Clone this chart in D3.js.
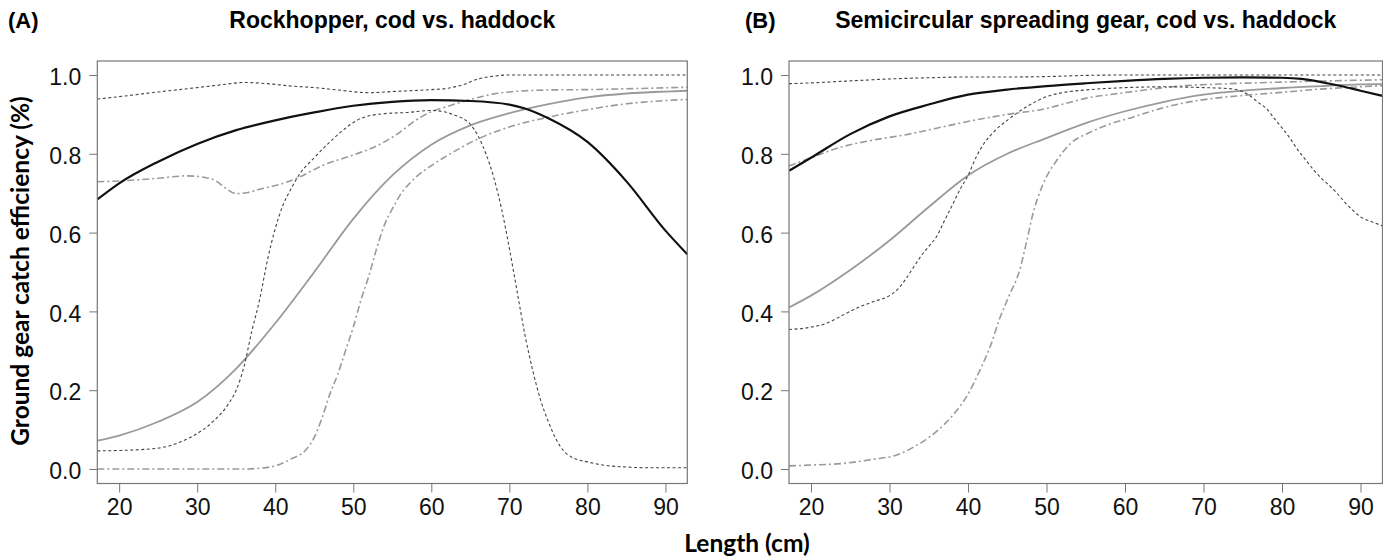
<!DOCTYPE html>
<html>
  <head>
    <meta charset="UTF-8" />
    <style>
      body { margin: 0; background: #fff; }
      svg { display: block; }
      .tick text { font-family: "Liberation Sans", Arial, sans-serif; font-size: 23px; fill: #111; }
      .tick line { stroke: #777; }
    </style>
  </head>
  <body>
    <svg></svg>
    <script src="https://d3js.org/d3.v7.min.js"></script>
    <script>
      // tick labels
      const xTicks = [20, 30, 40, 50, 60, 70, 80, 90];
      const yTicks = [0, 0.2, 0.4, 0.6, 0.8, 1.0];

      // (A) Rockhopper
      const aBlackLen = [17.2, 20, 25, 30, 35, 40, 45, 50, 55, 60, 65, 70, 72, 75, 80, 85, 90, 92.8];
      const aBlackEff = [0.684, 0.725, 0.78, 0.825, 0.86, 0.885, 0.905, 0.922, 0.932, 0.936, 0.934, 0.925, 0.915, 0.89, 0.83, 0.73, 0.605, 0.545];
      const aGreyLen = [17.2, 20, 25, 30, 35, 40, 45, 50, 55, 60, 65, 70, 75, 80, 85, 90, 92.8];
      const aGreyEff = [0.072, 0.085, 0.12, 0.17, 0.255, 0.37, 0.5, 0.635, 0.745, 0.823, 0.872, 0.903, 0.926, 0.943, 0.953, 0.958, 0.96];
      const aBellLen = [17.2, 20, 25, 28, 30, 32, 34, 35, 36, 37, 38, 39, 40, 41, 42, 43, 45, 47, 49, 51, 54, 57, 60, 62, 63, 64, 65, 66, 67, 68, 69, 70, 71, 72, 73, 74, 75, 76, 77, 78, 80, 82, 85, 88, 92.8];
      const aBellEff = [0.046, 0.047, 0.053, 0.07, 0.09, 0.12, 0.165, 0.2, 0.26, 0.35, 0.43, 0.53, 0.61, 0.67, 0.71, 0.745, 0.79, 0.83, 0.865, 0.89, 0.902, 0.905, 0.91, 0.905, 0.898, 0.89, 0.875, 0.845, 0.8, 0.74, 0.66, 0.56, 0.45, 0.34, 0.25, 0.175, 0.12, 0.075, 0.045, 0.03, 0.018, 0.01, 0.005, 0.003, 0.003];
      const aTopLen = [17.2, 20, 25, 30, 33, 36, 39, 42, 45, 48, 52, 55, 60, 62, 64, 66, 68, 70, 75, 92.8];
      const aTopEff = [0.939, 0.945, 0.957, 0.968, 0.975, 0.981, 0.978, 0.972, 0.968, 0.962, 0.955, 0.958, 0.963, 0.966, 0.975, 0.99, 0.997, 1.0, 1.0, 1.0];
      const aDd1Len = [17.2, 20, 25, 28.7, 31, 32.5, 33.5, 35, 36.5, 38, 40.7, 43, 46, 50, 53, 56, 58, 60, 62, 64, 66, 68, 70, 75, 80, 85, 92.8];
      const aDd1Eff = [0.729, 0.731, 0.738, 0.744, 0.74, 0.73, 0.715, 0.699, 0.702, 0.71, 0.723, 0.74, 0.77, 0.797, 0.82, 0.855, 0.885, 0.907, 0.92, 0.932, 0.943, 0.952, 0.957, 0.962, 0.963, 0.965, 0.969];
      const aDd2Len = [17.2, 30, 36, 38, 40, 42, 44, 45, 46, 47, 48, 49, 50, 51, 52, 53, 54, 55, 56, 58, 60, 62, 66, 70, 75, 80, 85, 90, 92.8];
      const aDd2Eff = [0, 0, 0, 0.002, 0.008, 0.025, 0.05, 0.08, 0.13, 0.19, 0.24, 0.3, 0.36, 0.43, 0.49, 0.56, 0.62, 0.66, 0.695, 0.74, 0.77, 0.795, 0.838, 0.868, 0.893, 0.912, 0.927, 0.935, 0.938];

      // (B) Semicircular spreading gear
      const bBlackLen = [17.2, 20, 25, 30, 35, 40, 45, 50, 55, 60, 65, 70, 75, 80, 82.5, 85, 87.5, 90, 92.8];
      const bBlackEff = [0.757, 0.79, 0.85, 0.895, 0.925, 0.95, 0.963, 0.972, 0.979, 0.985, 0.99, 0.993, 0.994, 0.993, 0.99, 0.982, 0.972, 0.96, 0.947];
      const bGreyLen = [17.2, 20, 25, 30, 35, 40, 45, 50, 55, 60, 65, 70, 75, 80, 85, 90, 92.8];
      const bGreyEff = [0.41, 0.44, 0.505, 0.58, 0.665, 0.745, 0.8, 0.84, 0.878, 0.908, 0.932, 0.95, 0.96, 0.967, 0.972, 0.976, 0.977];
      const bBellLen = [17.2, 20, 22, 24, 26, 28, 30, 31, 32, 33, 34, 35, 36, 37, 38, 39, 40, 41, 42, 43.5, 45, 47.5, 50, 52, 55, 60, 65, 70, 73.5, 75, 76, 77, 78, 79, 80, 81, 82, 83, 84, 85, 86, 87, 88, 89, 90, 91.5, 92.8];
      const bBellEff = [0.354, 0.36, 0.37, 0.39, 0.41, 0.425, 0.44, 0.455, 0.48, 0.51, 0.54, 0.565, 0.59, 0.63, 0.67, 0.71, 0.745, 0.79, 0.825, 0.86, 0.885, 0.92, 0.945, 0.955, 0.962, 0.968, 0.97, 0.968, 0.965, 0.958, 0.946, 0.93, 0.915, 0.89, 0.866, 0.84, 0.81, 0.785, 0.76, 0.738, 0.72, 0.7, 0.677, 0.657, 0.64, 0.627, 0.617];
      const bTopLen = [17.2, 20, 25, 30, 35, 40, 45, 50, 55, 60, 92.8];
      const bTopEff = [0.978, 0.98, 0.985, 0.99, 0.993, 0.995, 0.995, 0.996, 0.999, 1.0, 1.0];
      const bDd1Len = [17.2, 20, 24, 28, 32.5, 36, 40.5, 45, 50, 52.5, 55.5, 58, 61, 67, 72, 80, 92.8];
      const bDd1Eff = [0.769, 0.79, 0.818, 0.835, 0.85, 0.865, 0.884, 0.9, 0.915, 0.928, 0.943, 0.95, 0.958, 0.972, 0.977, 0.982, 0.988];
      const bDd2Len = [17.2, 20, 24, 28, 31, 33, 35, 36.2, 38, 40, 41.5, 43, 44, 45.2, 46.6, 47.5, 48.2, 49.5, 51.4, 53, 55.5, 58, 61, 64, 67, 71, 75, 80, 84, 88, 92.8];
      const bDd2Eff = [0.008, 0.01, 0.014, 0.025, 0.036, 0.055, 0.08, 0.099, 0.135, 0.19, 0.25, 0.32, 0.38, 0.438, 0.506, 0.58, 0.642, 0.72, 0.786, 0.825, 0.854, 0.875, 0.893, 0.912, 0.927, 0.94, 0.948, 0.956, 0.963, 0.968, 0.973];

      let width = 1383,
        height = 557;

      let svg = d3.select("svg").attr("width", width).attr("height", height);

      // line looks
      const looks = {
        black: { stroke: "#111", width: 2.2, dash: null },
        grey: { stroke: "#9a9a9a", width: 1.8, dash: null },
        dash: { stroke: "#444", width: 1.1, dash: "3,2.5" },
        dashdot: { stroke: "#9a9a9a", width: 1.6, dash: "7,3,2,3" },
      };

      const panels = [
        {
          id: "A", label: "(A)", labelX: 8, title: "Rockhopper, cod vs. haddock",
          left: 97.3, right: 687.3,
          series: [
            [aDd1Len, aDd1Eff, "dashdot"], [aDd2Len, aDd2Eff, "dashdot"],
            [aGreyLen, aGreyEff, "grey"], [aTopLen, aTopEff, "dash"],
            [aBellLen, aBellEff, "dash"], [aBlackLen, aBlackEff, "black"],
          ],
        },
        {
          id: "B", label: "(B)", labelX: 745, title: "Semicircular spreading gear, cod vs. haddock",
          left: 789, right: 1382.5,
          series: [
            [bDd1Len, bDd1Eff, "dashdot"], [bDd2Len, bDd2Eff, "dashdot"],
            [bGreyLen, bGreyEff, "grey"], [bTopLen, bTopEff, "dash"],
            [bBellLen, bBellEff, "dash"], [bBlackLen, bBlackEff, "black"],
          ],
        },
      ];

      const plotTop = 61,
        plotBottom = 483.5;

      panels.forEach(function (p) {
        let x = d3.scaleLinear().domain([17.2, 92.8]).range([p.left, p.right]);
        let y = d3.scaleLinear().domain([0, 1]).range([469, 75]);

        let g = svg.append("g").attr("id", "panel" + p.id);

        g.append("clipPath")
          .attr("id", "clip" + p.id)
          .append("rect")
          .attr("x", p.left)
          .attr("y", plotTop)
          .attr("width", p.right - p.left)
          .attr("height", plotBottom - plotTop);

        let line = d3
          .line()
          .x((d) => x(d[0]))
          .y((d) => y(d[1]))
          .curve(d3.curveMonotoneX);

        g.append("g")
          .attr("clip-path", "url(#clip" + p.id + ")")
          .selectAll("path")
          .data(p.series)
          .enter()
          .append("path")
          .attr("d", (s) => line(s[0].map((v, i) => [v, s[1][i]])))
          .attr("fill", "none")
          .attr("stroke", (s) => looks[s[2]].stroke)
          .attr("stroke-width", (s) => looks[s[2]].width)
          .attr("stroke-dasharray", (s) => looks[s[2]].dash);

        // box
        g.append("rect")
          .attr("x", p.left)
          .attr("y", plotTop)
          .attr("width", p.right - p.left)
          .attr("height", plotBottom - plotTop)
          .attr("fill", "none")
          .attr("stroke", "#777")
          .attr("stroke-width", 1.2);

        let xAxis = g
          .append("g")
          .attr("transform", "translate(0," + plotBottom + ")")
          .call(d3.axisBottom(x).tickValues(xTicks).tickSize(9).tickPadding(6));
        xAxis.select(".domain").remove();

        let yAxis = g
          .append("g")
          .attr("transform", "translate(" + p.left + ",0)")
          .call(
            d3.axisLeft(y).tickValues(yTicks).tickFormat(d3.format(".1f")).tickSize(8).tickPadding(8)
          );
        yAxis.select(".domain").remove();
        yAxis.selectAll("text").attr("dy", "0.42em");

        g.append("text")
          .attr("x", p.labelX)
          .attr("y", 28)
          .style("font-family", "'Liberation Sans', Arial, sans-serif")
          .style("font-weight", "bold")
          .style("font-size", "22px")
          .text(p.label);

        g.append("text")
          .attr("x", (p.left + p.right) / 2)
          .attr("y", 28)
          .attr("text-anchor", "middle")
          .style("font-family", "'Liberation Sans', Arial, sans-serif")
          .style("font-weight", "bold")
          .style("font-size", "23px")
          .text(p.title);
      });

      svg
        .append("text")
        .attr("transform", "translate(29,271) rotate(-90)")
        .attr("text-anchor", "middle")
        .style("font-family", "Lato, 'Open Sans', sans-serif")
        .style("font-weight", "bold")
        .style("font-size", "24.5px")
        .text("Ground gear catch efficiency (%)");

      svg
        .append("text")
        .attr("x", 747)
        .attr("y", 552)
        .attr("text-anchor", "middle")
        .style("font-family", "Lato, 'Open Sans', sans-serif")
        .style("font-weight", "bold")
        .style("font-size", "24.5px")
        .text("Length (cm)");
    </script>
  </body>
</html>
